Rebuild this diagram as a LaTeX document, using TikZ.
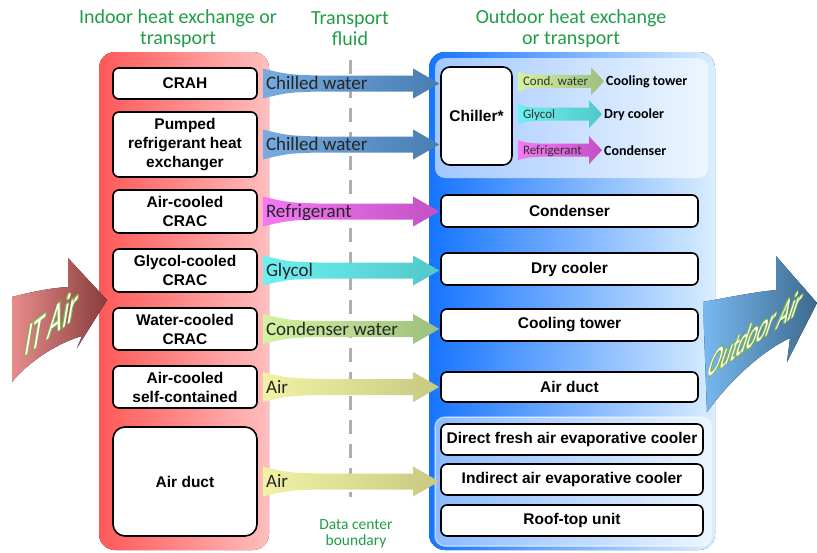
\documentclass[tikz,border=0pt]{standalone}
\usepackage{fontspec}
\setmainfont{Liberation Sans}
\newfontfamily\carl{Carlito}
\usepackage[copies]{contour}
\contourlength{0.55pt}
\usetikzlibrary{calc}
\definecolor{hdrgreen}{RGB}{30,158,70}
\definecolor{redL}{RGB}{255,88,88}
\definecolor{redR}{RGB}{255,190,190}
\definecolor{blueL}{RGB}{22,116,255}
\definecolor{blueR}{RGB}{218,238,255}
\definecolor{cwL}{RGB}{120,172,225}
\definecolor{cwR}{RGB}{72,125,178}
\definecolor{rfL}{RGB}{245,120,245}
\definecolor{rfR}{RGB}{195,80,195}
\definecolor{gyL}{RGB}{110,240,240}
\definecolor{gyR}{RGB}{80,200,200}
\definecolor{cdL}{RGB}{212,242,160}
\definecolor{cdR}{RGB}{155,192,125}
\definecolor{arL}{RGB}{242,242,165}
\definecolor{arR}{RGB}{200,200,130}
\definecolor{itL}{RGB}{232,140,140}
\definecolor{itR}{RGB}{135,60,60}
\definecolor{odL}{RGB}{120,185,240}
\definecolor{odR}{RGB}{60,105,140}
\definecolor{dashgray}{RGB}{175,175,175}
\definecolor{outl}{RGB}{130,180,70}

% big flow arrow: #1 label name, #2 from node, #3 to node, #4 left colour, #5 right colour, #6 text
\newcommand\flowarrow[6]{%
  \path[left color=#4, right color=#5] let \p1=(#2.east), \p2=(#3.west) in
    (\x1+5pt,\y1+15pt) .. controls (\x1+30pt,\y1+9pt) .. (\x1+60pt,\y1+8pt)
    -- (\x2-27pt,\y1+8pt) -- (\x2-27pt,\y1+15pt) -- (\x2-1pt,\y1)
    -- (\x2-27pt,\y1-15pt) -- (\x2-27pt,\y1-8pt) -- (\x1+60pt,\y1-8pt)
    .. controls (\x1+30pt,\y1-9pt) .. (\x1+5pt,\y1-15pt) -- cycle;
  \path let \p1=(#2.east) in node[flowlbl, anchor=base west] (#1) at (\x1+8pt,\y1-6pt) {#6};
}
% small flow arrow from the chiller: #1 label name, #2 to node, #3 left colour, #4 right colour, #5 text
\newcommand\smallflow[5]{%
  \path[left color=#3, right color=#4] let \p1=(chiller.east), \p2=(#2.west) in
    (\x1+5pt,\y2+10pt) .. controls (\x1+15pt,\y2+7pt) .. (\x1+30pt,\y2+6.5pt)
    -- (\x2-15pt,\y2+6.5pt) -- (\x2-15pt,\y2+14pt) -- (\x2-2pt,\y2)
    -- (\x2-15pt,\y2-14pt) -- (\x2-15pt,\y2-6.5pt) -- (\x1+30pt,\y2-6.5pt)
    .. controls (\x1+15pt,\y2-7pt) .. (\x1+5pt,\y2-10pt) -- cycle;
  \path let \p1=(chiller.east), \p2=(#2.west) in node[smalllbl, anchor=base west] (#1) at (\x1+10pt,\y2-4pt) {#5};
}

\begin{document}
\begin{tikzpicture}[x=1pt,y=-1pt,
  box/.style={draw=black, line width=1.6pt, fill=white, rounded corners=6pt,
    font=\bfseries\fontsize{15.5}{19}\selectfont, align=center, inner sep=0pt},
  hdr/.style={font=\carl\fontsize{20}{20.5}\selectfont, text=hdrgreen, align=center, inner sep=0pt},
  flowlbl/.style={font=\carl\fontsize{19}{21}\selectfont, text=black!85, inner sep=0pt},
  smalllbl/.style={font=\carl\fontsize{13}{15}\selectfont, text=black!80, inner sep=0pt},
  outlbl/.style={font=\carl\bfseries\fontsize{14}{16}\selectfont, inner sep=0pt},
  bigtxt/.style={text=white, inner sep=0pt, transform shape}
]
\useasboundingbox (0,0) rectangle (817,552);

% panels
\fill[left color=redL, right color=redR, rounded corners=16pt] (99,52) rectangle (269,550);
\fill[left color=blueL, right color=blueR, rounded corners=16pt] (429,52) rectangle (715,550);
\fill[white, fill opacity=0.6, rounded corners=10pt] (435,58) rectangle (708,178);
\filldraw[fill=white, fill opacity=0.5, draw=white, draw opacity=0.5, line width=1.5pt, rounded corners=10pt] (435,417) rectangle (711,546);

% headers
\node[hdr] (h1) at (178,28.5) {Indoor heat exchange or\\transport};
\node[hdr] (h2) at (350,28.5) {Transport\\fluid};
\node[hdr] (h3) at (571,28.5) {Outdoor heat exchange\\or transport};
\node[hdr, font=\carl\fontsize{15.5}{16.5}\selectfont] (dcb) at (356,534) {Data center\\boundary};

% boundary
\draw[dashgray, line width=3pt, dash pattern=on 14pt off 10pt] (350,60) -- (350,497);

% indoor boxes
\node[box, minimum width=144pt, minimum height=31pt] (crah) at (185,83.5) {CRAH};
\node[box, minimum width=144pt, minimum height=65pt] (prhx) at (185,144.5) {Pumped\\refrigerant heat\\exchanger};
\node[box, minimum width=144pt, minimum height=43pt] (accrac) at (185,211.5) {Air-cooled\\CRAC};
\node[box, minimum width=144pt, minimum height=43pt] (gccrac) at (185,270.5) {Glycol-cooled\\CRAC};
\node[box, minimum width=144pt, minimum height=42pt] (wccrac) at (185,329) {Water-cooled\\CRAC};
\node[box, minimum width=144pt, minimum height=42pt] (acsc) at (185,387) {Air-cooled\\self-contained};
\node[box, minimum width=144pt, minimum height=109pt, rounded corners=12pt] (induct) at (185,481.5) {Air duct};

% outdoor boxes
\node[box, minimum width=71pt, minimum height=98pt, rounded corners=9pt] (chiller) at (476.5,116) {Chiller*};
\node[box, minimum width=257pt, minimum height=32pt] (cond) at (569.5,211) {Condenser};
\node[box, minimum width=257pt, minimum height=32pt] (dry) at (569.5,269) {Dry cooler};
\node[box, minimum width=257pt, minimum height=32pt] (tower) at (569.5,325) {Cooling tower};
\node[box, minimum width=257pt, minimum height=30pt] (outduct) at (569.5,387) {Air duct};
\node[box, minimum width=262pt, minimum height=31pt] (dfa) at (572,439.5) {Direct fresh air evaporative cooler};
\node[box, minimum width=262pt, minimum height=31pt] (iae) at (572,479.5) {Indirect air evaporative cooler};
\node[box, minimum width=262pt, minimum height=31pt] (rtu) at (572,520.5) {Roof-top unit};

% chiller outputs
\node[outlbl, anchor=base west] (ct) at (606,85) {Cooling tower};
\node[outlbl, anchor=base west] (dc) at (604,118) {Dry cooler};
\node[outlbl, anchor=base west] (cdn) at (604,155) {Condenser};
\smallflow{l1}{ct}{cdL}{cdR}{Cond. water}
\smallflow{l2}{dc}{gyL}{gyR}{Glycol}
\smallflow{l3}{cdn}{rfL}{rfR}{Refrigerant}

% transport arrows
\flowarrow{f1}{crah}{chiller}{cwL}{cwR}{Chilled water}
\flowarrow{f2}{prhx}{chiller}{cwL}{cwR}{Chilled water}
\flowarrow{f3}{accrac}{cond}{rfL}{rfR}{Refrigerant}
\flowarrow{f4}{gccrac}{dry}{gyL}{gyR}{Glycol}
\flowarrow{f5}{wccrac}{tower}{cdL}{cdR}{Condenser water}
\flowarrow{f6}{acsc}{outduct}{arL}{arR}{Air}
\flowarrow{f7}{induct}{iae}{arL}{arR}{Air}

% IT air arrow
\fill[left color=itL, right color=itR] (12,297) .. controls (35,291) and (52,288) .. (68,287)
  -- (68,258) -- (107,300) -- (77,348) -- (82,336)
  .. controls (60,342) and (30,360) .. (12,382) -- cycle;
\begin{scope}[shift={(52,322)}, cm={0.98,0.74,0.33,1.95,(0,0)}]
  \node[bigtxt, font=\carl\fontsize{25}{25}\selectfont] (itair) at (0,0) {\contour{outl}{IT Air}};
\end{scope}

% outdoor air arrow
\fill[left color=odL, right color=odR] (703,302) .. controls (730,297) and (755,292) .. (776,290)
  -- (776,256) -- (817,303) -- (787,362) -- (790,338)
  .. controls (760,352) and (728,383) .. (707,412) -- cycle;
\begin{scope}[shift={(756,333)}, cm={0.9,0.64,0.65,2.0,(0,0)}]
  \node[bigtxt, font=\carl\fontsize{21}{21}\selectfont] (odair) at (0,0) {\contour{outl}{Outdoor Air}};
\end{scope}
\end{tikzpicture}
\end{document}
